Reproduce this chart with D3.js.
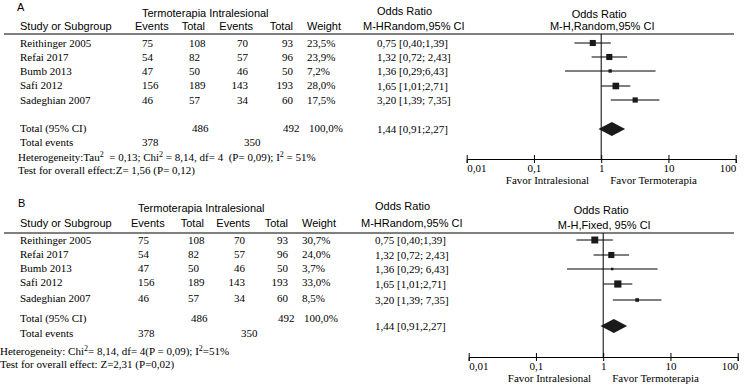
<!DOCTYPE html>
<meta charset="utf-8">
<script src="https://d3js.org/d3.v7.min.js"></script>
<style>
  body { margin: 0; background: #fff; }
  .sans { font-family: "Liberation Sans", Arial, sans-serif; font-size: 11px; }
  .serif { font-family: "Liberation Serif", "Times New Roman", serif; font-size: 11px; }
</style>
<div id="chart"></div>
<script>
// study data (same for both panels)
var studies = ["Reithinger 2005", "Refai 2017", "Bumb 2013", "Safi 2012", "Sadeghian 2007"];
var eventsTermo = [75, 54, 47, 156, 46];
var totalTermo = [108, 82, 50, 189, 57];
var eventsIntra = [70, 57, 46, 143, 34];
var totalIntra = [93, 96, 50, 193, 60];
var oddsRatio = [0.75, 1.32, 1.36, 1.65, 3.20];
var ciLow = [0.40, 0.72, 0.29, 1.01, 1.39];
var ciHigh = [1.39, 2.43, 6.43, 2.71, 7.35];
var weightA = [23.5, 23.9, 7.2, 28.0, 17.5];
var weightB = [30.7, 24.0, 3.7, 33.0, 8.5];
var orLabelsA = ["0,75 [0,40;1,39]", "1,32 [0,72; 2,43]", "1,36 [0,29;6,43]", "1,65 [1,01;2,71]", "3,20 [1,39; 7,35]"];
var orLabelsB = ["0,75 [0,40;1,39]", "1,32 [0,72; 2,43]", "1,36 [0,29; 6,43]", "1,65 [1,01;2,71]", "3,20 [1,39; 7,35]"];
// pooled
var pooledOR = 1.44, pooledLow = 0.91, pooledHigh = 2.27;
var pooledLabelA = "1,44 [0,91;2,27]";
var pooledLabelB = "1,44 [0,91,2,27]";
var totalEventsTermo = 378, totalEventsIntra = 350;
var totalsTermo = 486, totalsIntra = 492;
// axis
var axisTicks = [0.01, 0.1, 1, 10, 100];
var axisTickLabels = ["0,01", "0,1", "1", "10", "100"];

var W = 748, H = 389;
var svg = d3.select("#chart").append("svg")
  .attr("width", W).attr("height", H);
svg.append("rect").attr("width", W).attr("height", H).attr("fill", "#fff");

var pct = d3.formatLocale({decimal: ",", thousands: ".", grouping: [3], currency: ["", ""]}).format(".1f");

function panel(cfg) {
  var g = svg.append("g");
  var x = d3.scaleLog().domain([0.01, 100]).range(cfg.range);
  var size = d3.scaleSqrt().domain([0, 35]).range([0, 7.4]);

  function txt(cls, xx, yy, s, anchor) {
    return g.append("text").attr("class", cls).attr("x", xx).attr("y", yy)
      .attr("text-anchor", anchor || "start").text(s);
  }

  // headers
  txt("sans", cfg.letterX, cfg.letterY, cfg.letter);
  txt("sans", cfg.col.ev1, cfg.groupY, "Termoterapia Intralesional");
  txt("sans", 20, cfg.headY, "Study or Subgroup");
  txt("sans", cfg.col.ev1 - 7, cfg.headY, "Events");
  txt("sans", cfg.col.tot1 + 16, cfg.headY, "Total", "end");
  txt("sans", cfg.col.ev2 + 5, cfg.headY, "Events", "end");
  txt("sans", cfg.col.tot2, cfg.headY, "Total", "end");
  txt("sans", cfg.col.w, cfg.headY, "Weight");
  txt("sans", cfg.col.or, cfg.orTitleY, "Odds Ratio");
  txt("sans", cfg.col.or - 14, cfg.headY, "M-HRandom,95% CI");
  txt("sans", x(1) - 2, cfg.plotTitleY, "Odds Ratio", "middle");
  txt("sans", x(1) + 1, cfg.plotSubY, cfg.plotSub, "middle");

  g.append("line").attr("x1", 4).attr("x2", 734)
    .attr("y1", cfg.lineY).attr("y2", cfg.lineY)
    .attr("stroke", "#000").attr("stroke-width", 1);

  // study rows
  studies.forEach(function(s, i) {
    var y = cfg.rowY[i] + 4;
    txt("serif", 20, y, s);
    txt("serif", cfg.col.ev1, y, eventsTermo[i]);
    txt("serif", cfg.col.tot1, y, totalTermo[i]);
    txt("serif", cfg.col.ev2, y, eventsIntra[i], "end");
    txt("serif", cfg.col.tot2, y, totalIntra[i], "end");
    txt("serif", cfg.col.w, y, pct(cfg.weights[i]) + "%");
    txt("serif", cfg.col.or, cfg.orRowY[i] + 4, cfg.orLabels[i]);
  });

  // totals
  txt("serif", 20, cfg.totalY + 4, "Total (95% CI)");
  txt("serif", cfg.col.tot1 + 3, cfg.totalY + 4, totalsTermo);
  txt("serif", cfg.col.tot2 - 10, cfg.totalY + 4, totalsIntra);
  txt("serif", cfg.col.w + 2, cfg.totalY + 4, pct(100) + "%");
  txt("serif", cfg.col.or, cfg.orTotalY + 4, cfg.pooledLabel);
  txt("serif", 20, cfg.eventsY + 4, "Total events");
  txt("serif", cfg.col.ev1, cfg.eventsY + 4, totalEventsTermo);
  txt("serif", cfg.col.ev2 - 4, cfg.eventsY + 4, totalEventsIntra);
  cfg.hetLines(g, cfg);
  txt("serif", cfg.testX, cfg.testY + 4, cfg.testText);

  // forest plot
  g.append("line").attr("x1", x(1)).attr("x2", x(1))
    .attr("y1", cfg.lineY).attr("y2", cfg.axisY)
    .attr("stroke", "#000").attr("stroke-width", 1);

  studies.forEach(function(s, i) {
    var y = cfg.orRowY[i];
    g.append("line").attr("x1", x(ciLow[i])).attr("x2", x(ciHigh[i]))
      .attr("y1", y).attr("y2", y).attr("stroke", "#000").attr("stroke-width", 1);
    var sz = Math.max(2.5, size(cfg.weights[i]));
    g.append("rect").attr("x", x(oddsRatio[i]) - sz / 2).attr("y", y - sz / 2)
      .attr("width", sz).attr("height", sz).attr("fill", "#1a1a1a");
  });

  var dy = cfg.orTotalY, hh = 7;
  g.append("path")
    .attr("d", "M" + x(pooledLow) + "," + dy + "L" + x(pooledOR) + "," + (dy - hh) +
      "L" + x(pooledHigh) + "," + dy + "L" + x(pooledOR) + "," + (dy + hh) + "Z")
    .attr("fill", "#1a1a1a");

  var ax = g.append("g").attr("transform", "translate(0," + cfg.axisY + ")")
    .call(d3.axisBottom(x).tickValues(axisTicks).tickSizeOuter(0).tickSize(4)
      .tickFormat(function(d, i) { return axisTickLabels[i]; }));
  ax.select(".domain").attr("stroke", "#000");
  ax.selectAll(".tick line").attr("y1", -4).attr("y2", 4).attr("stroke", "#000");
  ax.selectAll(".tick text")
    .attr("class", "serif").attr("font-family", null).attr("font-size", null)
    .attr("fill", "#000").attr("dy", null).attr("y", 13)
    .attr("text-anchor", function(d, i) { return i === 0 ? "start" : (i === axisTicks.length - 1 ? "end" : "middle"); });

  txt("serif", x(1) - 12, cfg.axisY + 25, "Favor Intralesional", "end");
  txt("serif", x(1) + 9, cfg.axisY + 25, "Favor Termoterapia");
}

panel({
  letter: "A", letterX: 17, letterY: 11,
  range: [466.7, 735.7],
  col: {ev1: 142, tot1: 189, ev2: 248, tot2: 293, w: 307, or: 377},
  groupY: 17, headY: 30, orTitleY: 15, plotTitleY: 18, plotSubY: 30,
  plotSub: "M-H,Random,95% CI",
  lineY: 34,
  rowY: [43, 57, 71, 85, 100], orRowY: [43, 57, 71, 86, 100],
  totalY: 128, orTotalY: 129, eventsY: 142,
  weights: weightA, orLabels: orLabelsA, pooledLabel: pooledLabelA,
  hetLines: function(g, cfg) {
    var t = g.append("text").attr("class", "serif").attr("x", 18).attr("y", 161);
    t.append("tspan").text("Heterogeneity:Tau");
    t.append("tspan").attr("dy", -4).attr("font-size", "8px").text("2");
    t.append("tspan").attr("dy", 4).text("  = 0,13; Chi");
    t.append("tspan").attr("dy", -4).attr("font-size", "8px").text("2");
    t.append("tspan").attr("dy", 4).text(" = 8,14, df= 4  (P= 0,09); I");
    t.append("tspan").attr("dy", -4).attr("font-size", "8px").text("2");
    t.append("tspan").attr("dy", 4).text(" = 51%");
    t.attr("xml:space", "preserve");
  },
  testX: 18, testY: 170, testText: "Test for overall effect:Z= 1,56 (P= 0,12)",
  axisY: 159
});

panel({
  letter: "B", letterX: 18, letterY: 207,
  range: [468.7, 737.7],
  col: {ev1: 138, tot1: 188, ev2: 245, tot2: 288, w: 302, or: 375},
  groupY: 212, headY: 227, orTitleY: 210, plotTitleY: 214, plotSubY: 229,
  plotSub: "M-H,Fixed, 95% CI",
  lineY: 233,
  rowY: [240, 254, 268, 282, 298], orRowY: [240, 255, 269, 284, 300],
  totalY: 318, orTotalY: 326, eventsY: 333,
  weights: weightB, orLabels: orLabelsB, pooledLabel: pooledLabelB,
  hetLines: function(g, cfg) {
    var t = g.append("text").attr("class", "serif").attr("x", 0).attr("y", 355);
    t.append("tspan").text("Heterogeneity: Chi");
    t.append("tspan").attr("dy", -4).attr("font-size", "8px").text("2");
    t.append("tspan").attr("dy", 4).text("= 8,14, df= 4(P = 0,09); I");
    t.append("tspan").attr("dy", -4).attr("font-size", "8px").text("2");
    t.append("tspan").attr("dy", 4).text("=51%");
  },
  testX: 0, testY: 364, testText: "Test for overall effect: Z=2,31 (P=0,02)",
  axisY: 357
});
</script>
